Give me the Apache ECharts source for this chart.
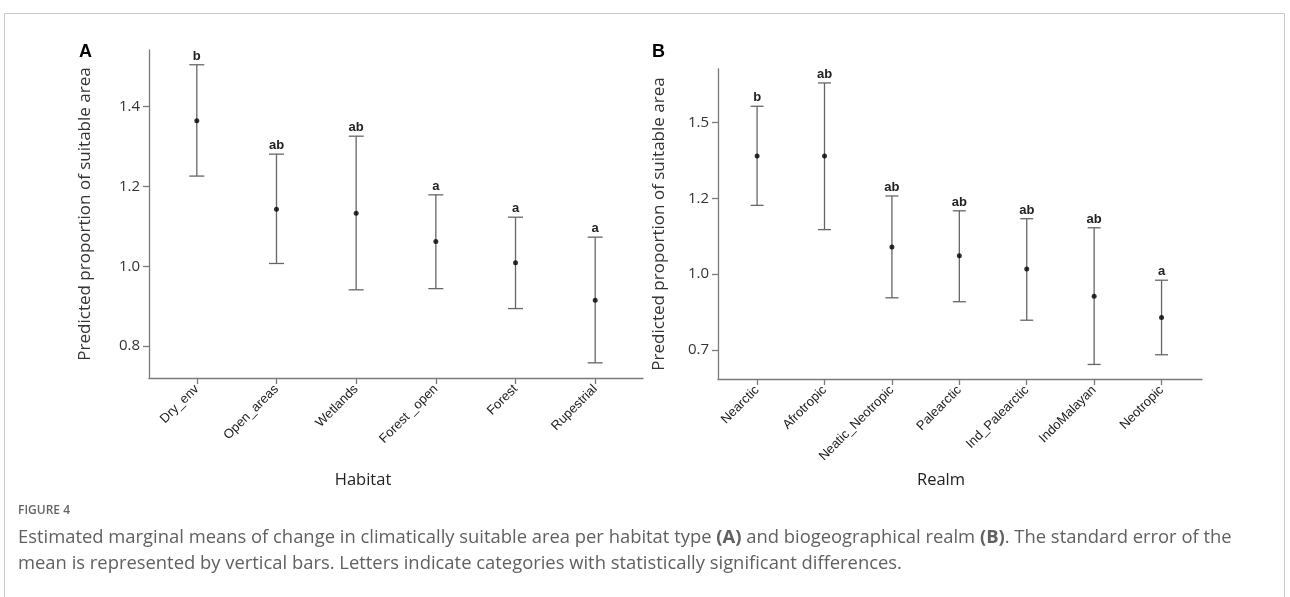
<!DOCTYPE html>
<html>
<head>
<meta charset="utf-8">
<script src="https://cdn.jsdelivr.net/npm/echarts@6/dist/echarts.min.js"></script>
<style>
html,body{margin:0;padding:0;background:#fff;}
#c{width:1290px;height:597px;}
</style>
</head>
<body>
<div id="c"></div>
<script>
// ---- Panel A: Habitat ----
const habitatCats = ['Dry_env', 'Open_areas', 'Wetlands', 'Forest _open', 'Forest', 'Rupestrial'];
const habitatMean = [1.365, 1.143, 1.133, 1.062, 1.009, 0.915];
const habitatLow  = [1.226, 1.007, 0.941, 0.944, 0.894, 0.758];
const habitatHigh = [1.505, 1.281, 1.326, 1.179, 1.123, 1.073];
const habitatLetters = ['b', 'ab', 'ab', 'a', 'a', 'a'];
const yTicksA = [0.8, 1.0, 1.2, 1.4];
const yTickLabelsA = ['0.8', '1.0', '1.2', '1.4'];

// ---- Panel B: Realm ----
const realmCats = ['Nearctic', 'Afrotropic', 'Neatic_Neotropic', 'Palearctic', 'Ind_Palearctic', 'IndoMalayan', 'Neotropic'];
const realmMean = [1.390, 1.390, 1.090, 1.061, 1.017, 0.927, 0.857];
const realmLow  = [1.227, 1.147, 0.922, 0.909, 0.848, 0.702, 0.734];
const realmHigh = [1.554, 1.631, 1.258, 1.209, 1.183, 1.153, 0.980];
const realmLetters = ['b', 'ab', 'ab', 'ab', 'ab', 'ab', 'a'];
const yTicksB = [0.75, 1.0, 1.25, 1.5];
const yTickLabelsB = ['0.7', '1.0', '1.2', '1.5'];

const axisColor = '#7a7a7a';
const barColor = '#666666';

function idx(n){ const a=[]; for(let i=1;i<=n;i++) a.push(i); return a; }

function errData(cats, lo, hi){
  return cats.map((c,i)=>[i+1, lo[i], hi[i]]);
}
function ptData(cats, m){
  return cats.map((c,i)=>[i+1, m[i]]);
}
function makeRender(capW){
  return function(params, api){
    const x = api.value(0);
    const lo = api.coord([x, api.value(1)]);
    const hi = api.coord([x, api.value(2)]);
    const style = {stroke: barColor, lineWidth: 1.3};
    return {
      type: 'group',
      children: [
        {type:'line', shape:{x1:lo[0], y1:lo[1], x2:hi[0], y2:hi[1]}, style: style},
        {type:'line', shape:{x1:lo[0]-capW/2, y1:lo[1], x2:lo[0]+capW/2, y2:lo[1]}, style: style},
        {type:'line', shape:{x1:hi[0]-capW/2, y1:hi[1], x2:hi[0]+capW/2, y2:hi[1]}, style: style}
      ]
    };
  };
}
function letterRender(lettersArr){
  return function(params, api){
    const x = api.value(0);
    const hi = api.coord([x, api.value(1)]);
    return {
      type:'text',
      style:{text: lettersArr[params.dataIndex], x: hi[0], y: hi[1]-2, align:'center', verticalAlign:'bottom',
        font:'bold 13px "Liberation Sans", Arial, sans-serif', fill:'#222'}
    };
  };
}

const tickLabelFont = {fontFamily:'"Open Sans", "Noto Sans", sans-serif', fontSize:15, color:'#333'};

function yAxisCfg(gridIndex, min, max, ticks, labels, nameGap){
  return {
    type:'value', gridIndex: gridIndex, min:min, max:max,
    name:'Predicted proportion of suitable area', nameLocation:'middle', nameGap:nameGap,
    nameTextStyle:{fontFamily:'"Open Sans", "Noto Sans", sans-serif', fontSize:17, color:'#333'},
    axisLine:{show:true, lineStyle:{color:axisColor, width:1.3}},
    axisTick:{show:true, length:6, customValues:ticks, lineStyle:{color:axisColor, width:1.3}},
    axisLabel:{customValues:ticks, margin:9, ...tickLabelFont,
      formatter:(v)=>{ const k=ticks.findIndex(t=>Math.abs(t-v)<1e-9); return k>=0?labels[k]:''; }},
    splitLine:{show:false}
  };
}
function xAxisCfg(gridIndex, min, max, cats){
  const vals = idx(cats.length);
  return {
    type:'value', gridIndex:gridIndex, min:min, max:max,
    axisLine:{show:true, onZero:false, lineStyle:{color:axisColor, width:1.3}},
    axisTick:{show:true, length:6, customValues:vals, lineStyle:{color:axisColor, width:1.3}},
    axisLabel:{customValues:vals, rotate:45, margin:9, fontFamily:'"Liberation Sans", Arial, sans-serif', fontSize:13, color:'#222',
      formatter:(v)=>cats[Math.round(v)-1] || ''},
    splitLine:{show:false}
  };
}

const chart = echarts.init(document.getElementById('c'), null, {renderer:'canvas'});
const option = {
  backgroundColor:'#fff',
  animation:false,
  grid:[
    {left:149, right:1290-643, top:50, bottom:597-378},
    {left:718, right:1290-1202, top:69, bottom:597-379}
  ],
  xAxis:[
    xAxisCfg(0, 0.4, 6.6, habitatCats),
    xAxisCfg(1, 0.42, 7.6, realmCats)
  ],
  yAxis:[
    yAxisCfg(0, 0.72, 1.542, yTicksA, yTickLabelsA, 55),
    yAxisCfg(1, 0.654, 1.677, yTicksB, yTickLabelsB, 50)
  ],
  series:[
    {type:'custom', xAxisIndex:0, yAxisIndex:0, renderItem:makeRender(15), data:errData(habitatCats, habitatLow, habitatHigh), encode:{x:0, y:[1,2]}},
    {type:'custom', xAxisIndex:0, yAxisIndex:0, renderItem:letterRender(habitatLetters), data:habitatCats.map((c,i)=>[i+1, habitatHigh[i]]), encode:{x:0,y:1}},
    {type:'scatter', xAxisIndex:0, yAxisIndex:0, symbolSize:5, itemStyle:{color:'#000'}, data:ptData(habitatCats, habitatMean)},
    {type:'custom', xAxisIndex:1, yAxisIndex:1, renderItem:makeRender(13), data:errData(realmCats, realmLow, realmHigh), encode:{x:0, y:[1,2]}},
    {type:'custom', xAxisIndex:1, yAxisIndex:1, renderItem:letterRender(realmLetters), data:realmCats.map((c,i)=>[i+1, realmHigh[i]]), encode:{x:0,y:1}},
    {type:'scatter', xAxisIndex:1, yAxisIndex:1, symbolSize:5, itemStyle:{color:'#000'}, data:ptData(realmCats, realmMean)}
  ],
  graphic:[
    {type:'rect', shape:{x:4.5, y:13.5, width:1280, height:620}, style:{fill:'none', stroke:'#c8c8c8', lineWidth:1}, silent:true},
    {type:'text', left:79, top:43, style:{text:'A', font:'bold 18px "Liberation Sans", Arial, sans-serif', fill:'#000'}},
    {type:'text', left:652, top:43, style:{text:'B', font:'bold 18px "Liberation Sans", Arial, sans-serif', fill:'#000'}},
    {type:'text', x:363, y:480, style:{text:'Habitat', align:'center', verticalAlign:'middle', font:'16.5px "Open Sans", "Noto Sans", sans-serif', fill:'#222'}},
    {type:'text', x:941, y:480, style:{text:'Realm', align:'center', verticalAlign:'middle', font:'16.5px "Open Sans", "Noto Sans", sans-serif', fill:'#222'}},
    {type:'text', x:18, y:511, style:{text:'FIGURE 4', verticalAlign:'middle', font:'600 12px "Open Sans", "Noto Sans", sans-serif', fill:'#666'}},
    {type:'text', x:18, y:538, style:{
      text:'Estimated marginal means of change in climatically suitable area per habitat type {b|(A)} and biogeographical realm {b|(B)}. The standard error of the',
      verticalAlign:'middle', font:'18.4px "Open Sans", "Noto Sans", sans-serif', fill:'#606060',
      rich:{b:{fontWeight:'bold', fontSize:18.4, fontFamily:'"Open Sans", "Noto Sans", sans-serif', fill:'#606060'}}}},
    {type:'text', x:18, y:564, style:{
      text:'mean is represented by vertical bars. Letters indicate categories with statistically significant differences.',
      verticalAlign:'middle', font:'18.4px "Open Sans", "Noto Sans", sans-serif', fill:'#606060'}}
  ]
};
chart.setOption(option);
</script>
</body>
</html>
